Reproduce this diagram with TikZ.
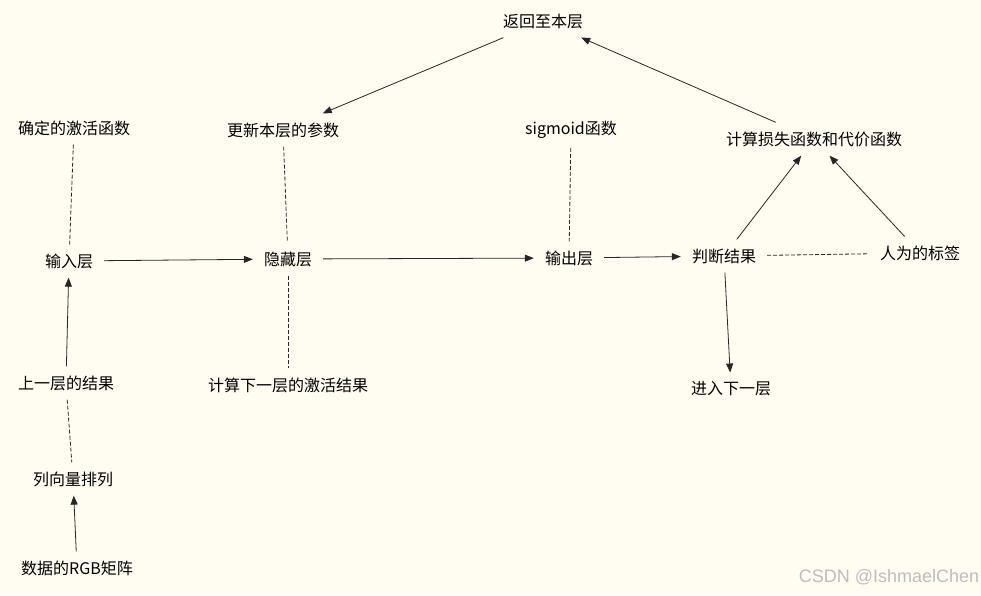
\documentclass[tikz,border=0pt]{standalone}
\usepackage{fontspec}
\setmainfont{Noto Sans CJK SC}
\newfontfamily\markfont{Liberation Sans}
\usetikzlibrary{arrows.meta}
\definecolor{paper}{HTML}{FFFDF2}
\definecolor{mark}{HTML}{BDBDBD}
\tikzset{
  lbl/.style={inner xsep=11pt, inner ysep=9pt, font=\fontsize{16}{19}\selectfont},
  flow/.style={draw=black!85, line width=0.8pt, -{Triangle[length=9pt,width=7pt]}},
  link/.style={draw=black!85, line width=0.8pt, dash pattern=on 4pt off 2pt}
}
\begin{document}
\begin{tikzpicture}[x=1pt,y=-1pt]
	  \fill[paper] (0,0) rectangle (981,595);
	  \useasboundingbox (0,0) rectangle (981,595);

	  \node[lbl] (back) at (543,21) {返回至本层};
	  \node[lbl] (act) at (74,128) {确定的激活函数};
	  \node[lbl] (upd) at (283,130) {更新本层的参数};
	  \node[lbl] (sig) at (571,130) {sigmoid函数};
	  \node[lbl] (loss) at (814,139) {计算损失函数和代价函数};

	  \node[lbl] (inl) at (69,261) {输入层};
	  \node[lbl] (hid) at (288,259) {隐藏层};
	  \node[lbl] (outl) at (569,258) {输出层};
	  \node[lbl] (judge) at (724,256) {判断结果};
	  \node[lbl] (tag) at (920,253) {人为的标签};

	  \node[lbl] (prev) at (66,383) {上一层的结果};
	  \node[lbl] (nextact) at (288,385) {计算下一层的激活结果};
	  \node[lbl] (next) at (731,389) {进入下一层};
	  \node[lbl] (col) at (73,479) {列向量排列};
	  \node[lbl] (rgb) at (77,568) {数据的RGB矩阵};

	  \node[text=mark, font=\markfont\fontsize{18}{21}\selectfont] (wm) at (889,577) {CSDN @IshmaelChen};


	  \draw[flow] (inl) -- (hid);
	  \draw[flow] (hid) -- (outl);
	  \draw[flow] (outl) -- (judge);
	  \draw[flow] (judge) -- (next);
	  \draw[flow] (judge) -- (loss);
	  \draw[flow] (tag) -- (loss);
	  \draw[flow] (loss) -- (back);
	  \draw[flow] (back) -- (upd);
	  \draw[flow] (prev) -- (inl);
	  \draw[flow] (rgb) -- (col);


	  \draw[link] (act) -- (inl);
	  \draw[link] (upd) -- (hid);
	  \draw[link] (hid) -- (nextact);
	  \draw[link] (sig) -- (outl);
	  \draw[link] (judge) -- (tag);
	  \draw[link] (prev) -- (col);

	\end{tikzpicture}
\end{document}
